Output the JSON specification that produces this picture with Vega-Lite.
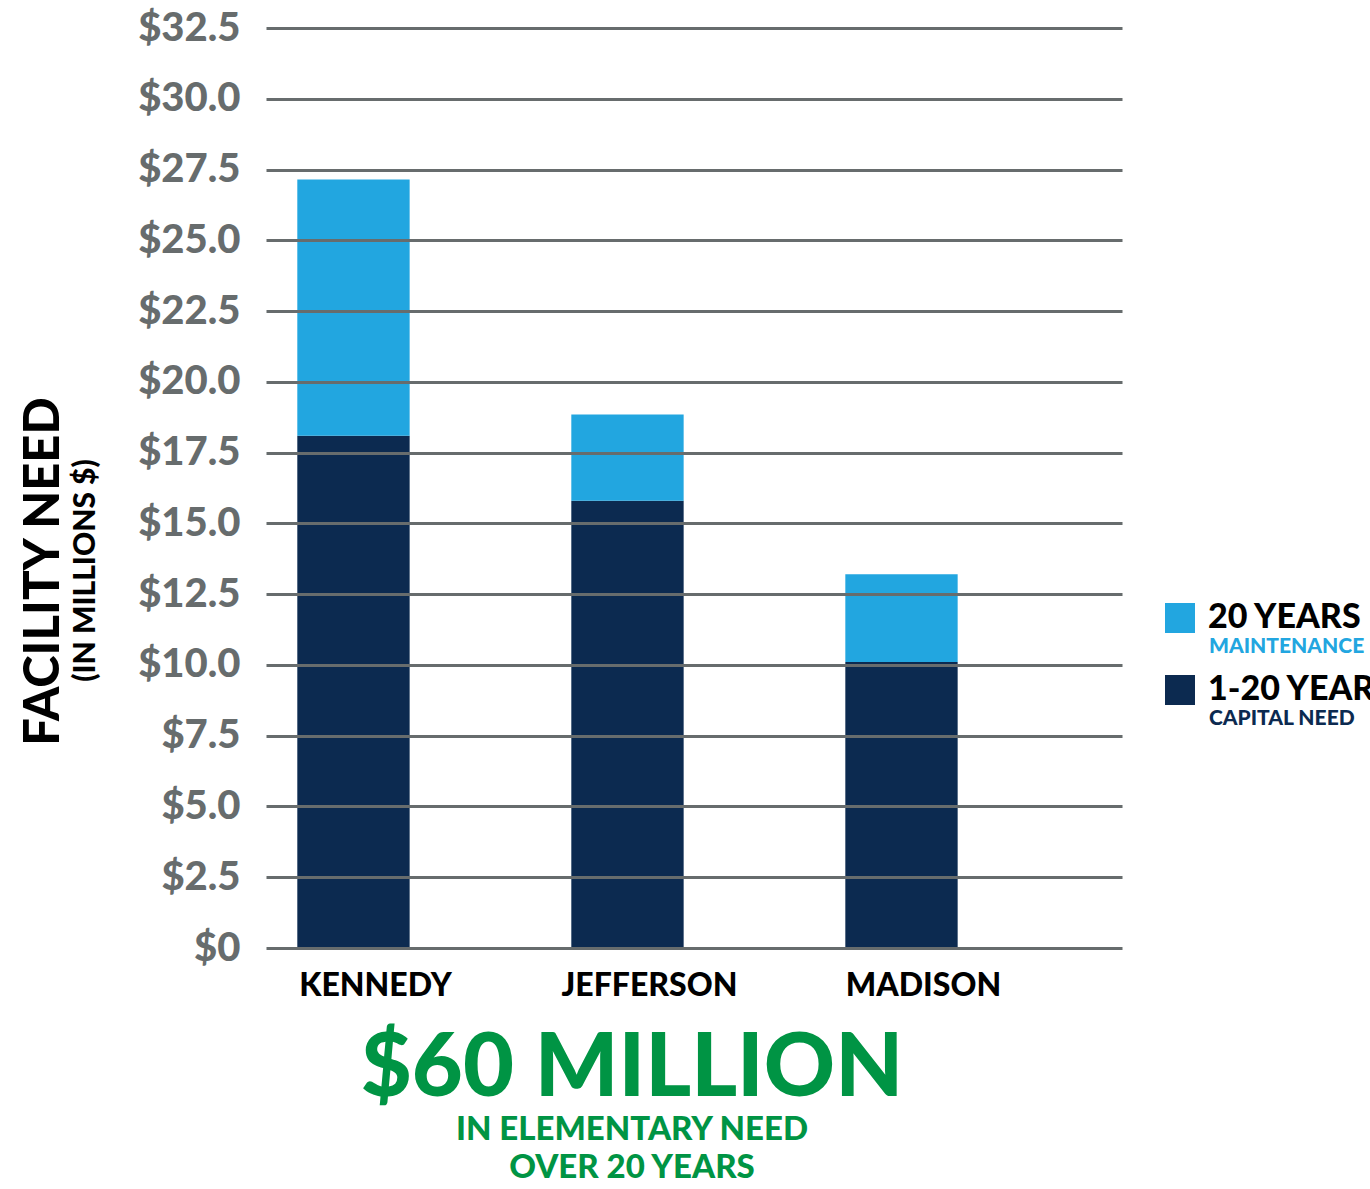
{
  "$schema": "https://vega.github.io/schema/vega-lite/v6.json",
  "autosize": "none",
  "width": 856,
  "height": 920,
  "padding": {"left": 266, "top": 28, "right": 248, "bottom": 241},
  "background": "white",
  "config": {
    "view": {"stroke": null},
    "font": "Lato"
  },
  "title": {
    "text": "$60 MILLION",
    "subtitle": ["IN ELEMENTARY NEED", "OVER 20 YEARS"],
    "orient": "bottom",
    "anchor": "middle",
    "dx": -62,
    "offset": 25,
    "font": "Lato",
    "fontSize": 88,
    "fontWeight": 900,
    "color": "#009444",
    "subtitleFont": "Lato",
    "subtitleFontSize": 33,
    "subtitleFontWeight": 900,
    "subtitleColor": "#009444",
    "subtitleLineHeight": 38,
    "subtitlePadding": 0
  },
  "data": {
    "values": [
      {"school": "KENNEDY", "type": "1-20 YEARS", "detail": "CAPITAL NEED", "value": 18.1},
      {"school": "KENNEDY", "type": "20 YEARS", "detail": "MAINTENANCE", "value": 9.05},
      {"school": "JEFFERSON", "type": "1-20 YEARS", "detail": "CAPITAL NEED", "value": 15.8},
      {"school": "JEFFERSON", "type": "20 YEARS", "detail": "MAINTENANCE", "value": 3.05},
      {"school": "MADISON", "type": "1-20 YEARS", "detail": "CAPITAL NEED", "value": 10.1},
      {"school": "MADISON", "type": "20 YEARS", "detail": "MAINTENANCE", "value": 3.1}
    ]
  },
  "encoding": {
    "x": {
      "field": "school",
      "type": "nominal",
      "sort": ["KENNEDY", "JEFFERSON", "MADISON"],
      "scale": {"paddingInner": 0.59, "paddingOuter": 0.357, "align": 0.16},
      "axis": {
        "title": null,
        "domain": false,
        "ticks": false,
        "labelAngle": 0,
        "labelFont": "Lato",
        "labelFontSize": 32,
        "labelFontWeight": 900,
        "labelColor": "#000000",
        "labelPadding": 22,
        "labelOffset": 22
      }
    }
  },
  "layer": [
    {
      "mark": {"type": "bar"},
      "encoding": {
        "y": {
          "field": "value",
          "type": "quantitative",
          "aggregate": "sum",
          "stack": "zero",
          "scale": {"domain": [0, 32.5], "nice": false},
          "axis": {
            "values": [0, 2.5, 5, 7.5, 10, 12.5, 15, 17.5, 20, 22.5, 25, 27.5, 30, 32.5],
            "labelExpr": "datum.value == 0 ? '$0' : '$' + format(datum.value, '.1f')",
            "labelFont": "Lato",
            "labelFontSize": 40,
            "labelFontWeight": 900,
            "labelColor": "#676c6d",
            "labelPadding": 26,
            "ticks": false,
            "domain": false,
            "grid": true,
            "gridColor": "#676c6d",
            "gridWidth": 3,
            "gridOpacity": 1,
            "zindex": 1,
            "title": "(IN MILLIONS $)",
            "titleFont": "Lato",
            "titleFontSize": 30,
            "titleFontWeight": 900,
            "titleColor": "#000000",
            "titleBaseline": "alphabetic",
            "titleX": -172,
            "titleY": 542
          }
        },
        "color": {
          "field": "type",
          "type": "nominal",
          "scale": {"domain": ["20 YEARS", "1-20 YEARS"], "range": ["#22a6e0", "#0c2a50"]},
          "legend": {
            "title": null,
            "orient": "none",
            "legendX": 897,
            "legendY": 573,
            "padding": 0,
            "symbolType": "square",
            "symbolSize": 900,
            "symbolStrokeWidth": 0,
            "symbolOpacity": 1,
            "labelFont": "Lato",
            "labelFontSize": 34,
            "labelFontWeight": 900,
            "labelColor": "#000000",
            "labelOffset": 11,
            "rowPadding": 38,
            "labelLimit": 400
          }
        },
        "order": {"field": "type", "sort": "ascending"}
      }
    },
    {
      "mark": {"type": "point", "opacity": 0},
      "encoding": {
        "y": {
          "field": "value",
          "type": "quantitative",
          "scale": {"domain": [0, 32.5], "nice": false},
          "axis": {
            "orient": "left",
            "labels": false,
            "ticks": false,
            "domain": false,
            "grid": false,
            "title": "FACILITY NEED",
            "titleFont": "Lato",
            "titleFontSize": 49,
            "titleFontWeight": 900,
            "titleColor": "#000000",
            "titleBaseline": "alphabetic",
            "titleX": -208,
            "titleY": 543
          }
        },
        "shape": {
          "field": "detail",
          "type": "nominal",
          "scale": {"domain": ["MAINTENANCE", "CAPITAL NEED"]},
          "legend": {
            "title": null,
            "orient": "none",
            "legendX": 922,
            "legendY": 608,
            "padding": 0,
            "symbolSize": 0,
            "symbolOpacity": 0,
            "symbolStrokeWidth": 0,
            "labelOffset": 0,
            "labelFont": "Lato",
            "labelFontSize": 21,
            "labelFontWeight": 900,
            "rowPadding": 50,
            "labelLimit": 400,
            "encoding": {
              "labels": {
                "fill": {
                  "condition": {"test": "datum.label === 'MAINTENANCE'", "value": "#22a6e0"},
                  "value": "#0c2a50"
                }
              }
            }
          }
        }
      }
    }
  ],
  "resolve": {"scale": {"y": "independent"}, "axis": {"y": "independent"}}
}
